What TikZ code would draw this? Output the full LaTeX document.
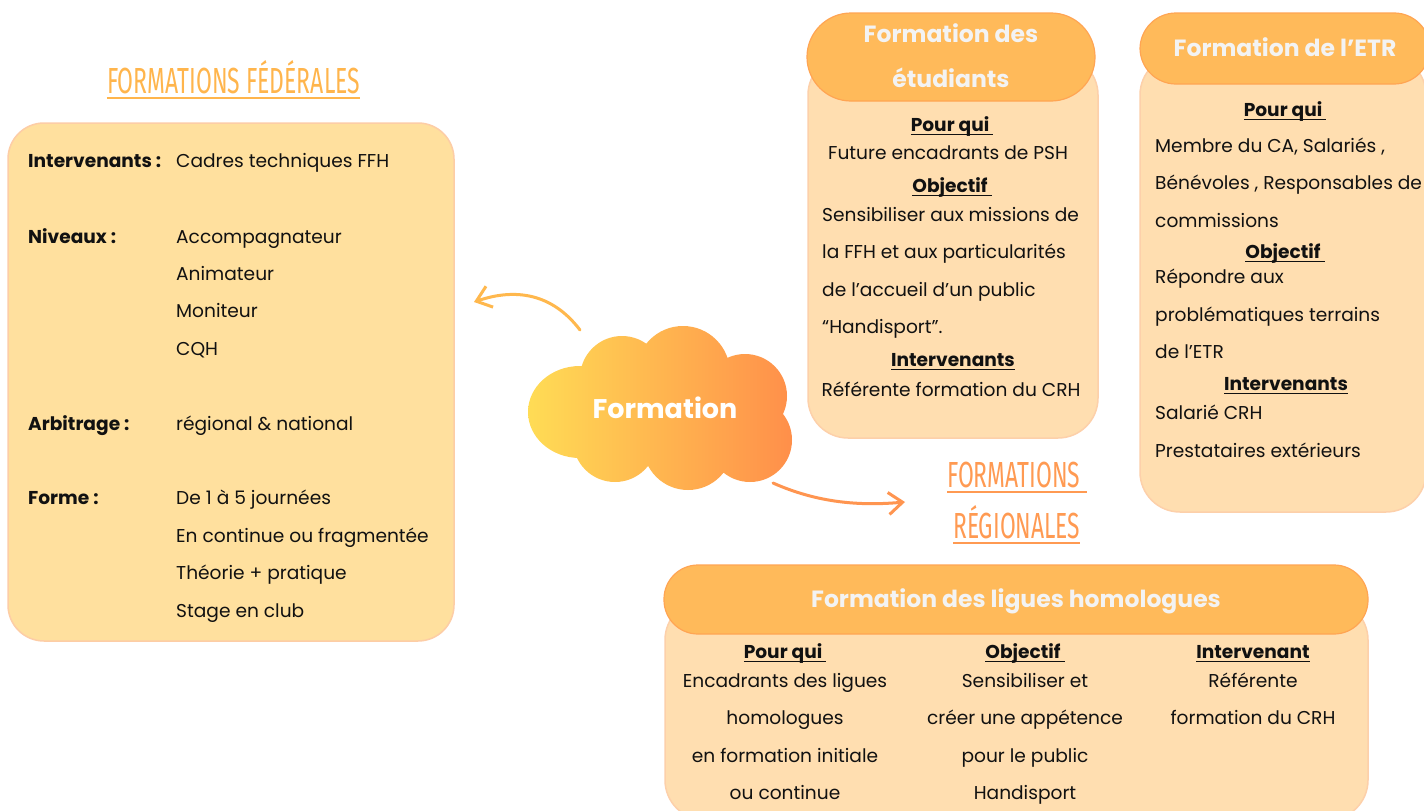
\documentclass[tikz,border=0pt]{standalone}
\usepackage{fontspec}
\usetikzlibrary{arrows.meta}
\setmainfont{Poppins}
\newfontfamily\condf{Fira Sans}
\definecolor{leftfill}{HTML}{FFE09E}
\definecolor{leftline}{HTML}{FDCDA6}
\definecolor{peach}{HTML}{FFDEB0}
\definecolor{peachline}{HTML}{FDD0AA}
\definecolor{headfill}{HTML}{FFBA5A}
\definecolor{headline}{HTML}{FFA553}
\definecolor{headtext}{HTML}{F3F3F3}
\definecolor{titleA}{HTML}{FFB54C}
\definecolor{titleB}{HTML}{FF9A52}
\definecolor{arrA}{HTML}{FFB84D}
\definecolor{arrB}{HTML}{FF9550}
\definecolor{cloudL}{HTML}{FFDC55}
\definecolor{cloudR}{HTML}{FF8F4A}
\definecolor{ink}{HTML}{111111}
\newcommand{\bodyf}{\fontsize{18.6}{22}\selectfont}
\newcommand{\bodyb}{\fontsize{18.6}{22}\selectfont\bfseries}
\newcommand{\headf}{\fontsize{23.5}{27}\selectfont\bfseries}
\newcommand{\ulb}[1]{\sbox0{#1}\rlap{\rule[-3.5pt]{\wd0}{1.5pt}}\usebox0}
\newcommand{\ttl}[2]{\resizebox{#1}{25pt}{\condf\fontsize{36}{40}\selectfont\raisebox{0pt}[\fontcharht\font`F][0pt]{#2}}}
\begin{document}
\begin{tikzpicture}[x=1pt,y=-1pt,
  bt/.style={font=\bodyf, inner sep=0pt, text=ink},
  bb/.style={font=\bodyb, inner sep=0pt, text=ink},
  ht/.style={font=\headf, inner sep=0pt, text=headtext},
  bodybox/.style={draw=peachline, line width=1.5pt, fill=peach, rounded corners=40pt},
  headbox/.style={draw=headline, line width=1.2pt, fill=headfill},
  arr/.style={line width=3pt, line cap=round, line join=round}]
\useasboundingbox (0,0) rectangle (1424,811);
\fill[white] (0,0) rectangle (1424,811);

% ---------- left box : formations federales ----------
\node[anchor=base, inner sep=0pt, text=titleA] (tfed) at (233.5,93) {\ttl{253pt}{FORMATIONS FÉDÉRALES}};
\draw[titleA, line width=2.5pt] ([yshift=-5pt]tfed.base west) -- ([yshift=-5pt]tfed.base east);
\node[draw=leftline, line width=1.5pt, fill=leftfill, rounded corners=36pt,
  minimum width=446pt, minimum height=518pt, inner sep=0pt] (fed) at (231,382) {};

\node[bb, anchor=base west] (l1) at (28,167) {Intervenants :};
\node[bt, anchor=base west] (v1) at (176,167) {Cadres techniques FFH};
\node[bb, anchor=base west] (l2) at (28,243) {Niveaux :};
\node[bt, anchor=base west] (v2) at (176,243) {Accompagnateur};
\node[bt, anchor=base west] (v3) at (176,280) {Animateur};
\node[bt, anchor=base west] (v4) at (176,317) {Moniteur};
\node[bt, anchor=base west] (v5) at (176,355) {CQH};
\node[bb, anchor=base west] (l3) at (28,430) {Arbitrage :};
\node[bt, anchor=base west] (v6) at (176,430) {régional \& national};
\node[bb, anchor=base west] (l4) at (28,504) {Forme :};
\node[bt, anchor=base west] (v7) at (176,504) {De 1 à 5 journées};
\node[bt, anchor=base west] (v8) at (176,542) {En continue ou fragmentée};
\node[bt, anchor=base west] (v9) at (176,579) {Théorie + pratique};
\node[bt, anchor=base west] (v10) at (176,617) {Stage en club};

% ---------- cloud ----------
\shade[left color=cloudL, right color=cloudR]
  (580,412) ellipse (52 and 46) (622,378) circle (42) (683,373) circle (47)
  (745,396) circle (42) (750,440) circle (42) (688,445) circle (45)
  (615,440) circle (42) (660,410) ellipse (100 and 52);
\node[font=\fontsize{27}{30}\selectfont\bfseries, text=white, inner sep=0pt] (cloud) at (665,408) {Formation};

% ---------- arrows ----------
\coordinate (a1s) at (580,330);
\coordinate (a1e) at (474,302);
\draw[arr, arrA, -{Straight Barb[length=14pt,width=22pt,line width=3pt]}]
  (a1s) .. controls (552,293) and (515,288) .. (a1e);
\coordinate (a2s) at (773,483);
\coordinate (a2e) at (905,502);
\draw[arr, arrB, -{Straight Barb[length=14pt,width=22pt,line width=3pt]}]
  (a2s) .. controls (818,503) and (860,506) .. (a2e);

% ---------- formation des etudiants ----------
\node[bodybox, minimum width=290pt, minimum height=383pt, inner sep=0pt] (etu) at (953,246.5) {};
\node[headbox, rounded corners=44pt, minimum width=288pt, minimum height=88pt, inner sep=0pt] (etuh) at (951,57) {};
\node[ht, anchor=base] (eh1) at (951,42.5) {Formation des};
\node[ht, anchor=base] (eh2) at (951,87.5) {étudiants};
\node[bb, anchor=base] (e1) at (952,131.5) {\ulb{Pour qui\ }};
\node[bt, anchor=base] (e2) at (948,159.5) {Future encadrants de PSH};
\node[bb, anchor=base] (e3) at (952,192.5) {\ulb{Objectif\ }};
\node[bt, anchor=base west] (e4) at (822,221.5) {Sensibiliser aux missions de};
\node[bt, anchor=base west] (e5) at (822,258.5) {la FFH et aux particularités};
\node[bt, anchor=base west] (e6) at (822,296.5) {de l’accueil d’un public};
\node[bt, anchor=base west] (e7) at (822,333.5) {“Handisport”.};
\node[bb, anchor=base] (e8) at (953,366.5) {\ulb{Intervenants}};
\node[bt, anchor=base] (e9) at (951,396.5) {Référente formation du CRH};

% ---------- formation de l'ETR ----------
\node[bodybox, minimum width=286pt, minimum height=457pt, inner sep=0pt] (etr) at (1283,283.5) {};
\node[headbox, rounded corners=36pt, minimum width=290pt, minimum height=71pt, inner sep=0pt] (etrh) at (1285,48.5) {};
\node[ht, anchor=base] (rh1) at (1285,56.5) {Formation de l’ETR};
\node[bb, anchor=base] (r1) at (1285,116.5) {\ulb{Pour qui\ }};
\node[bt, anchor=base west] (r2) at (1155,152.5) {Membre du CA, Salariés ,};
\node[bt, anchor=base west] (r3) at (1155,189.5) {Bénévoles , Responsables de};
\node[bt, anchor=base west] (r4) at (1155,227.5) {commissions};
\node[bb, anchor=base] (r5) at (1285,258.5) {\ulb{Objectif\ }};
\node[bt, anchor=base west] (r6) at (1155,283.5) {Répondre aux};
\node[bt, anchor=base west] (r7) at (1155,321.5) {problématiques terrains};
\node[bt, anchor=base west] (r8) at (1155,358.5) {de l’ETR};
\node[bb, anchor=base] (r9) at (1286,390.5) {\ulb{Intervenants}};
\node[bt, anchor=base west] (r10) at (1155,419.5) {Salarié CRH};
\node[bt, anchor=base west] (r11) at (1155,457.5) {Prestataires extérieurs};

% ---------- formations regionales ----------
\node[anchor=base west, inner sep=0pt, text=titleB] (treg1) at (947,487) {\ttl{133pt}{FORMATIONS}};
\draw[titleB, line width=2.5pt] ([yshift=-5pt]treg1.base west) -- ([yshift=-5pt,xshift=7pt]treg1.base east);
\node[anchor=base west, inner sep=0pt, text=titleB] (treg2) at (953,538) {\ttl{127pt}{RÉGIONALES}};
\draw[titleB, line width=2.5pt] ([yshift=-5pt]treg2.base west) -- ([yshift=-5pt]treg2.base east);

% ---------- formation des ligues homologues ----------
\node[bodybox, minimum width=703pt, minimum height=220pt, inner sep=0pt] (lig) at (1016.5,710) {};
\node[headbox, rounded corners=34pt, minimum width=704pt, minimum height=69pt, inner sep=0pt] (ligh) at (1016,599.5) {};
\node[ht, anchor=base] (lh1) at (1016,607.5) {Formation des ligues homologues};
\node[bb, anchor=base] (g1) at (785,658.5) {\ulb{Pour qui\ }};
\node[bt, anchor=base] (g2) at (785,687.5) {Encadrants des ligues};
\node[bt, anchor=base] (g3) at (785,724.5) {homologues};
\node[bt, anchor=base] (g4) at (785,762.5) {en formation initiale};
\node[bt, anchor=base] (g5) at (785,799.5) {ou continue};
\node[bb, anchor=base] (o1) at (1025,658.5) {\ulb{Objectif\ }};
\node[bt, anchor=base] (o2) at (1025,687.5) {Sensibiliser et};
\node[bt, anchor=base] (o3) at (1025,724.5) {créer une appétence};
\node[bt, anchor=base] (o4) at (1025,762.5) {pour le public};
\node[bt, anchor=base] (o5) at (1025,799.5) {Handisport};
\node[bb, anchor=base] (i1) at (1253,658.5) {\ulb{Intervenant}};
\node[bt, anchor=base] (i2) at (1253,687.5) {Référente};
\node[bt, anchor=base] (i3) at (1253,724.5) {formation du CRH};
\end{tikzpicture}
\end{document}
